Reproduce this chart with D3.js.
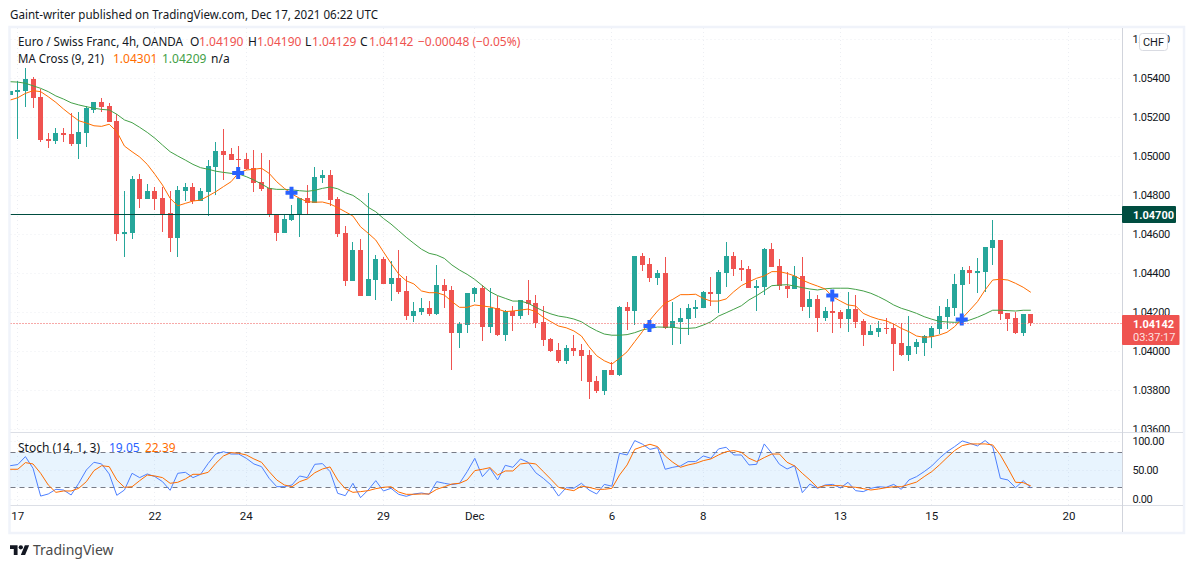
<!DOCTYPE html>
<html lang="en">
<head>
<meta charset="utf-8">
<title>Euro / Swiss Franc, 4h</title>
<script src="https://cdn.jsdelivr.net/npm/d3@7"></script>
<style>
  html, body { margin: 0; padding: 0; background: #fff; }
  svg { display: block; }
  text { font-family: "Noto Sans", Roboto, sans-serif; font-size: 12px; fill: #131722; }
</style>
</head>
<body>
<script>
// candles, first one is cut off by the left edge of the pane
var opens = [1.05313,
  1.05328,1.05333,1.05395,1.05303,1.05087,1.05077,1.05118,1.05113,1.05062,1.05118,
  1.05236,1.05277,1.05256,1.05179,1.04600,1.04605,1.04882,1.04779,1.04820,1.04785,
  1.04708,1.04579,1.04820,1.04841,1.04769,1.04815,1.04944,1.05026,1.05010,1.04985,
  1.04985,1.04938,1.04867,1.04836,1.04703,1.04605,1.04672,1.04697,1.04785,1.04759,
  1.04887,1.04903,1.04779,1.04605,1.04359,1.04518,1.04282,1.04364,1.04472,1.04344,
  1.04374,1.04308,1.04179,1.04200,1.04221,1.04190,1.04338,1.04313,1.04092,1.04133,
  1.04292,1.04323,1.04123,1.04221,1.04082,1.04205,1.04179,1.04262,1.04246,1.04149,
  1.04062,1.04005,1.03949,1.04015,1.04005,1.03979,1.03846,1.03795,1.03903,1.03877,
  1.04226,1.04205,1.04487,1.04446,1.04374,1.04400,1.04118,1.04149,1.04164,1.04215,
  1.04221,1.04303,1.04292,1.04400,1.04487,1.04426,1.04421,1.04323,1.04328,1.04523,
  1.04436,1.04333,1.04318,1.04385,1.04226,1.04267,1.04169,1.04205,1.04200,1.04164,
  1.04215,1.04154,1.04082,1.04097,1.04118,1.04118,1.04041,1.03979,1.04021,1.04041,
  1.04072,1.04113,1.04174,1.04221,1.04338,1.04415,1.04400,1.04405,1.04528,1.04569,
  1.04195,1.04169,1.04092,1.04190];
var highs = [1.05333,
  1.05385,1.05451,1.05405,1.05344,1.05118,1.05144,1.05144,1.05220,1.05226,1.05256,
  1.05277,1.05297,1.05272,1.05215,1.04820,1.04897,1.04908,1.04856,1.04841,1.04841,
  1.04820,1.04846,1.04862,1.04862,1.04836,1.04979,1.05072,1.05138,1.05041,1.05051,
  1.05015,1.05031,1.05015,1.04979,1.04703,1.04703,1.04749,1.04785,1.04851,1.04944,
  1.04928,1.04928,1.04790,1.04641,1.04559,1.04574,1.04810,1.04492,1.04482,1.04462,
  1.04518,1.04385,1.04251,1.04272,1.04256,1.04441,1.04369,1.04333,1.04149,1.04297,
  1.04328,1.04338,1.04323,1.04282,1.04210,1.04231,1.04262,1.04364,1.04287,1.04231,
  1.04067,1.04041,1.04031,1.04082,1.04036,1.04005,1.03872,1.03903,1.03944,1.04231,
  1.04251,1.04487,1.04503,1.04477,1.04415,1.04482,1.04251,1.04221,1.04241,1.04262,
  1.04308,1.04379,1.04415,1.04559,1.04508,1.04467,1.04436,1.04364,1.04528,1.04554,
  1.04472,1.04405,1.04436,1.04482,1.04308,1.04287,1.04226,1.04303,1.04210,1.04303,
  1.04287,1.04164,1.04133,1.04154,1.04169,1.04138,1.04144,1.04179,1.04062,1.04082,
  1.04128,1.04231,1.04267,1.04395,1.04431,1.04436,1.04477,1.04533,1.04672,1.04569,
  1.04195,1.04200,1.04190,1.04190];
var lows = [1.05313,
  1.05087,1.05251,1.05246,1.05072,1.05041,1.05062,1.05072,1.05051,1.04985,1.05046,
  1.05220,1.05226,1.05174,1.04564,1.04482,1.04574,1.04733,1.04779,1.04723,1.04610,
  1.04508,1.04482,1.04769,1.04754,1.04769,1.04692,1.04800,1.04877,1.04979,1.04882,
  1.04928,1.04815,1.04820,1.04687,1.04564,1.04605,1.04667,1.04585,1.04697,1.04759,
  1.04862,1.04744,1.04585,1.04333,1.04359,1.04282,1.04282,1.04262,1.04344,1.04256,
  1.04292,1.04159,1.04149,1.04185,1.04179,1.04185,1.04221,1.03903,1.04015,1.04092,
  1.04251,1.04051,1.04092,1.04077,1.04051,1.04103,1.04164,1.04185,1.04118,1.04026,
  1.03995,1.03938,1.03933,1.03974,1.03846,1.03754,1.03785,1.03774,1.03877,1.03872,
  1.04108,1.04133,1.04410,1.04354,1.04338,1.04113,1.04031,1.04036,1.04082,1.04169,
  1.04221,1.04231,1.04195,1.04328,1.04385,1.04359,1.04323,1.04205,1.04287,1.04431,
  1.04313,1.04272,1.04318,1.04205,1.04169,1.04097,1.04154,1.04092,1.04118,1.04097,
  1.04118,1.04026,1.04082,1.04072,1.04087,1.03897,1.03974,1.03949,1.03985,1.03974,
  1.04015,1.04087,1.04113,1.04179,1.04159,1.04344,1.04297,1.04303,1.04441,1.04159,
  1.04103,1.04087,1.04077,1.04129];
var closes = [1.05333,
  1.05338,1.05395,1.05297,1.05082,1.05077,1.05118,1.05108,1.05062,1.05123,1.05246,
  1.05277,1.05251,1.05174,1.04600,1.04610,1.04882,1.04779,1.04820,1.04779,1.04703,
  1.04579,1.04826,1.04841,1.04769,1.04820,1.04949,1.05026,1.05005,1.04979,1.04979,
  1.04933,1.04862,1.04831,1.04697,1.04605,1.04677,1.04703,1.04785,1.04759,1.04892,
  1.04903,1.04774,1.04600,1.04359,1.04518,1.04282,1.04369,1.04472,1.04344,1.04374,
  1.04303,1.04179,1.04205,1.04221,1.04190,1.04338,1.04308,1.04092,1.04138,1.04297,
  1.04323,1.04123,1.04221,1.04082,1.04205,1.04179,1.04262,1.04241,1.04144,1.04056,
  1.04000,1.03949,1.04015,1.04000,1.03974,1.03841,1.03795,1.03903,1.03877,1.04226,
  1.04205,1.04487,1.04441,1.04374,1.04400,1.04118,1.04154,1.04169,1.04221,1.04226,
  1.04303,1.04292,1.04405,1.04487,1.04421,1.04415,1.04323,1.04333,1.04523,1.04431,
  1.04333,1.04318,1.04385,1.04226,1.04267,1.04169,1.04205,1.04195,1.04164,1.04215,
  1.04149,1.04082,1.04103,1.04118,1.04113,1.04036,1.03979,1.04026,1.04046,1.04077,
  1.04118,1.04179,1.04226,1.04344,1.04415,1.04400,1.04410,1.04533,1.04569,1.04190,
  1.04164,1.04092,1.04190,1.04142];

// MA Cross (9, 21)
var ma9 = [1.05287,
  1.05299,1.05321,1.05335,1.05330,1.05304,1.05275,1.05241,1.05210,1.05181,1.05169,
  1.05155,1.05152,1.05163,1.05125,1.05051,1.05022,1.04995,1.04957,1.04906,1.04851,
  1.04783,1.04745,1.04757,1.04769,1.04774,1.04795,1.04817,1.04843,1.04868,1.04914,
  1.04928,1.04932,1.04937,1.04911,1.04868,1.04834,1.04805,1.04783,1.04766,1.04763,
  1.04764,1.04754,1.04735,1.04714,1.04692,1.04637,1.04604,1.04569,1.04509,1.04450,
  1.04395,1.04360,1.04344,1.04308,1.04299,1.04299,1.04287,1.04253,1.04224,1.04224,
  1.04236,1.04231,1.04226,1.04215,1.04202,1.04205,1.04210,1.04215,1.04202,1.04173,
  1.04150,1.04128,1.04119,1.04103,1.04077,1.04022,1.03976,1.03950,1.03933,1.03963,
  1.03996,1.04048,1.04099,1.04159,1.04205,1.04246,1.04265,1.04289,1.04289,1.04291,
  1.04270,1.04256,1.04256,1.04267,1.04304,1.04335,1.04355,1.04373,1.04385,1.04407,
  1.04407,1.04398,1.04385,1.04364,1.04347,1.04333,1.04318,1.04278,1.04256,1.04236,
  1.04231,1.04193,1.04176,1.04163,1.04155,1.04138,1.04116,1.04099,1.04077,1.04070,
  1.04073,1.04082,1.04096,1.04125,1.04168,1.04210,1.04253,1.04313,1.04364,1.04368,
  1.04364,1.04347,1.04327,1.04301];
var ma21 = [1.05381,
  1.05379,1.05373,1.05360,1.05347,1.05330,1.05308,1.05292,1.05273,1.05262,1.05253,
  1.05245,1.05239,1.05236,1.05214,1.05185,1.05171,1.05147,1.05121,1.05091,1.05056,
  1.05022,1.05000,1.04979,1.04957,1.04940,1.04932,1.04922,1.04916,1.04911,1.04908,
  1.04894,1.04877,1.04856,1.04834,1.04829,1.04829,1.04826,1.04822,1.04819,1.04824,
  1.04834,1.04841,1.04832,1.04812,1.04798,1.04771,1.04737,1.04714,1.04680,1.04651,
  1.04617,1.04583,1.04552,1.04522,1.04501,1.04492,1.04475,1.04441,1.04415,1.04393,
  1.04367,1.04335,1.04304,1.04284,1.04270,1.04256,1.04256,1.04245,1.04224,1.04205,
  1.04190,1.04179,1.04173,1.04164,1.04150,1.04125,1.04104,1.04087,1.04081,1.04081,
  1.04084,1.04094,1.04108,1.04116,1.04123,1.04122,1.04122,1.04116,1.04116,1.04119,
  1.04133,1.04150,1.04179,1.04196,1.04214,1.04232,1.04262,1.04284,1.04309,1.04335,
  1.04338,1.04340,1.04333,1.04325,1.04318,1.04313,1.04319,1.04322,1.04322,1.04322,
  1.04316,1.04308,1.04296,1.04279,1.04259,1.04236,1.04219,1.04207,1.04193,1.04176,
  1.04163,1.04152,1.04149,1.04147,1.04149,1.04159,1.04173,1.04190,1.04209,1.04209,
  1.04207,1.04205,1.04209,1.04209];

// crosses of the two averages
var crossBars = [30, 37, 84, 108, 125];
var crossPrices = [1.04913, 1.04812, 1.04128, 1.04284, 1.04161];

// Stoch (14, 1, 3)
var stochK = [57,
  59,72.6,52.6,5,8.6,16.6,15.4,6.9,26.9,49.7,
  62.9,60,42.9,6.3,15.4,44,36.6,42.9,38.3,29.7,
  14.9,44,45.7,36.6,42.3,61,77,81,77,77,
  69.7,60,55.4,35.4,21.1,21.1,24,39.4,36.6,59.4,
  60.6,46.9,9.7,5.7,26.9,2.3,15.4,31.4,13.7,18.3,
  8,4.6,8.6,10.3,8,29.7,26.9,24.6,26.9,46.9,
  69.7,38.3,52.6,32.6,57.7,54.3,68.6,62.9,45,35.4,
  24,5,19.4,18.3,26.9,15.4,8.6,25,22,78.3,
  75.4,100,94,85,88,50.9,54.3,56.6,64,64,
  73.7,69.7,85.7,88.6,75.4,75.4,58.3,59.4,94.3,78.3,
  59.4,51.4,57,10.9,25.7,18.3,24,25,18.9,28.6,
  14.3,12.6,18.3,21,20,25,16.6,32.6,38.3,46.9,
  56.6,69.7,81,89.7,99.4,95.4,90.9,100,89.7,35.4,
  32.6,19.4,31.4,19.05];
var stochD = [50.9,
  50.9,62.3,60,44,24,11.4,13.7,13.7,18.3,29.7,
  48.6,57,55.4,32.6,20,21,31.4,41,39.4,36.6,
  26.9,28.6,34.3,42.3,42.3,45.7,61,73.7,79.4,78.3,
  75.4,68.6,62.9,46.9,32.6,24,21,29.7,34.3,45,
  51.4,54.9,32.6,17.7,11.4,12.6,14.3,17.7,20,21,
  12,8,8,8.6,8.6,16.6,21,25.7,26.9,32.6,
  48.6,50.9,53.7,41,48,48,60,61.7,60,46.9,
  33.7,20,16.6,14.3,22,20,16.6,16.6,18.3,41,
  58.3,85,89.7,93.7,89.7,73.7,62.9,54.3,58.3,61,
  65.7,68.6,75.4,81,82.9,80,69.7,64,70.9,77,
  77,62.9,56.6,44,32.6,19.4,22.9,22.9,22.9,21,
  20,17.7,15.4,17.1,19.4,21,21,25,29,38.3,
  46.9,58.3,70.9,82.9,91.4,94.3,94.3,94.3,92.6,75.4,
  52.6,28.6,28,22.39];

// axis labels
var dateTicks = [1, 19, 31, 49, 61, 79, 91, 109, 121, 139];
var dateLabels = ["17", "22", "24", "29", "Dec", "6", "8", "13", "15", "20"];
var priceTicks = [1.036, 1.038, 1.04, 1.042, 1.044, 1.046, 1.048, 1.05, 1.052, 1.054, 1.056];
var stochTicks = [0, 50, 100];

var width = 1194, height = 568;
var left = 10.5, axisX = 1122.5, right = 1183;
var up = "#26a69a", down = "#ef5350", orange = "#ff6d00", green = "#43a047", blue = "#2962ff";

var svg = d3.select("body").append("svg")
  .attr("width", width)
  .attr("height", height);

var x = d3.scaleLinear().domain([0, 134]).range([9.68, 1030.3]);
var y = d3.scaleLinear().domain([1.036, 1.056]).range([429, 39]);
var ys = d3.scaleLinear().domain([0, 100]).range([499, 440.6]);

var defs = svg.append("defs");
defs.append("clipPath").attr("id", "plot")
  .append("rect").attr("x", left).attr("y", 28).attr("width", axisX - left).attr("height", 404);
// the axis group is translated, so this one starts at 0
defs.append("clipPath").attr("id", "priceLabels")
  .append("rect").attr("x", 0).attr("y", 28).attr("width", 70).attr("height", 404);

// frame of the chart
svg.append("rect")
  .attr("x", 9.5).attr("y", 27).attr("width", 1174.5).attr("height", 506)
  .attr("fill", "#fff").attr("stroke", "#f0f3fa").attr("stroke-width", 2.5);

// grid
var grid = svg.append("g")
  .attr("stroke", "#eceef3")
  .attr("stroke-dasharray", "1 3");
grid.selectAll(".gx").data(dateTicks).enter().append("line")
  .attr("x1", function(d) { return Math.round(x(d)) + 0.5; })
  .attr("x2", function(d) { return Math.round(x(d)) + 0.5; })
  .attr("y1", 28).attr("y2", 505);
grid.selectAll(".gy").data(priceTicks).enter().append("line")
  .attr("x1", left).attr("x2", axisX)
  .attr("y1", function(d) { return Math.round(y(d)) + 0.5; })
  .attr("y2", function(d) { return Math.round(y(d)) + 0.5; });
grid.selectAll(".gs").data(stochTicks).enter().append("line")
  .attr("x1", left).attr("x2", axisX)
  .attr("y1", function(d) { return Math.round(ys(d)) + 0.5; })
  .attr("y2", function(d) { return Math.round(ys(d)) + 0.5; });

// main pane
var pane = svg.append("g").attr("clip-path", "url(#plot)");
var bars = d3.range(opens.length);

function barColor(i) { return closes[i] < opens[i] ? down : up; }

pane.selectAll(".wick").data(bars).enter().append("rect")
  .attr("x", function(i) { return Math.round(x(i)); })
  .attr("y", function(i) { return y(highs[i]); })
  .attr("width", 1)
  .attr("height", function(i) { return Math.max(1, y(lows[i]) - y(highs[i])); })
  .attr("fill", barColor)
  .attr("shape-rendering", "crispEdges");

pane.selectAll(".body").data(bars).enter().append("rect")
  .attr("x", function(i) { return Math.round(x(i)) - 2; })
  .attr("y", function(i) { return y(Math.max(opens[i], closes[i])); })
  .attr("width", 5)
  .attr("height", function(i) { return Math.max(1, Math.abs(y(opens[i]) - y(closes[i]))); })
  .attr("fill", barColor)
  .attr("shape-rendering", "crispEdges");

function drawLine(target, values, scale, color) {
  var line = d3.line()
    .x(function(d, i) { return x(i) + 0.5; })
    .y(function(d) { return scale(d); });
  target.append("path")
    .attr("d", line(values))
    .attr("fill", "none")
    .attr("stroke", color)
    .attr("stroke-width", 1);
}

drawLine(pane, ma21, y, green);
drawLine(pane, ma9, y, orange);

pane.selectAll(".cross").data(crossBars).enter().append("path")
  .attr("d", d3.symbol(d3.symbolCross, 80))
  .attr("transform", function(d, i) {
    return "translate(" + x(d) + "," + y(crossPrices[i]) + ")";
  })
  .attr("fill", blue);

// horizontal level and last price
var levelPrice = 1.047, lastPrice = 1.04142;
pane.append("line")
  .attr("x1", left).attr("x2", axisX)
  .attr("y1", Math.floor(y(levelPrice)) + 0.5).attr("y2", Math.floor(y(levelPrice)) + 0.5)
  .attr("stroke", "#004d40").attr("stroke-width", 1.2);
pane.append("line")
  .attr("x1", left).attr("x2", axisX)
  .attr("y1", Math.floor(y(lastPrice)) + 0.5).attr("y2", Math.floor(y(lastPrice)) + 0.5)
  .attr("stroke", down).attr("stroke-dasharray", "1 2");

// stochastic pane
svg.append("rect")
  .attr("x", left).attr("width", axisX - left)
  .attr("y", ys(80)).attr("height", ys(20) - ys(80))
  .attr("fill", "#2196f3").attr("fill-opacity", 0.1);
svg.selectAll(".band").data([80, 20]).enter().append("line")
  .attr("x1", left).attr("x2", axisX)
  .attr("y1", function(d) { return Math.round(ys(d)) + 0.5; })
  .attr("y2", function(d) { return Math.round(ys(d)) + 0.5; })
  .attr("stroke", "#787b86").attr("stroke-dasharray", "5 4");

var stochPane = svg.append("g");
drawLine(stochPane, stochK, ys, "#4d80ff");
drawLine(stochPane, stochD, ys, orange);

// separators
svg.append("line").attr("x1", left).attr("x2", right).attr("y1", 432.5).attr("y2", 432.5).attr("stroke", "#dcdfe6");
svg.append("line").attr("x1", left).attr("x2", right).attr("y1", 505.5).attr("y2", 505.5).attr("stroke", "#dcdfe6");
svg.append("line").attr("x1", axisX).attr("x2", axisX).attr("y1", 28).attr("y2", 532).attr("stroke", "#d1d4dc");

// axes
var priceAxis = d3.axisRight(y).tickValues(priceTicks).tickFormat(d3.format(".5f")).tickSize(0).tickPadding(10);
svg.append("g").attr("class", "valueAxis").attr("clip-path", "url(#priceLabels)")
  .attr("transform", "translate(" + axisX + ",0)").call(priceAxis)
  .call(function(g) { g.select(".domain").remove(); });

var stochAxis = d3.axisRight(ys).tickValues(stochTicks).tickFormat(d3.format(".2f")).tickSize(0).tickPadding(10);
svg.append("g").attr("class", "valueAxis")
  .attr("transform", "translate(" + axisX + ",0)").call(stochAxis)
  .call(function(g) { g.select(".domain").remove(); });

var dateAxis = d3.axisBottom(x).tickValues(dateTicks)
  .tickFormat(function(d, i) { return dateLabels[i]; }).tickSize(0).tickPadding(7);
svg.append("g").attr("class", "dateAxis").attr("transform", "translate(0,505)").call(dateAxis)
  .call(function(g) { g.select(".domain").remove(); });

svg.selectAll(".valueAxis .tick text")
  .style("font-family", "Roboto, sans-serif").style("font-size", "11px").style("letter-spacing", "-0.4px")
  .attr("fill", "#131722");
svg.selectAll(".dateAxis .tick text")
  .style("font-family", "Roboto, sans-serif").style("font-size", "11.5px")
  .attr("fill", "#131722");

// price tags
function tagText(py, label, opacity, weight) {
  svg.append("text").attr("x", 1133).attr("y", py)
    .style("font-family", "Roboto, sans-serif").style("font-size", "11px")
    .style("fill", "#fff").style("fill-opacity", opacity).style("font-weight", weight)
    .text(label);
}
svg.append("rect").attr("x", 1122).attr("y", 206).attr("width", 54).attr("height", 17).attr("rx", 1).attr("fill", "#004d40");
tagText(218.5, "1.04700", 1, 700);
svg.append("rect").attr("x", 1122).attr("y", 315).attr("width", 57.5).attr("height", 30).attr("rx", 1).attr("fill", down);
tagText(327.5, "1.04142", 1, 700);
tagText(341, "03:37:17", 0.85, 400);

// currency badge
svg.append("rect").attr("x", 1139.5).attr("y", 33.5).attr("width", 28).attr("height", 17).attr("rx", 3)
  .attr("fill", "#fff").attr("stroke", "#d9dbe2");
svg.append("text").attr("x", 1153.5).attr("y", 46).attr("text-anchor", "middle")
  .style("font-family", "Roboto, sans-serif").style("font-size", "11px").text("CHF");

// legends
svg.append("text").attr("x", 10).attr("y", 19).attr("textLength", 368).attr("lengthAdjust", "spacingAndGlyphs")
  .text("Gaint-writer published on TradingView.com, Dec 17, 2021 06:22 UTC");

function legend(py, items) {
  items.forEach(function(it) {
    var t = svg.append("text").attr("x", it[0]).attr("y", py).style("fill", it[2] || "#131722").text(it[1]);
    if (it[3]) t.attr("textLength", it[3]).attr("lengthAdjust", "spacingAndGlyphs");
  });
}
legend(46, [
  [18, "Euro / Swiss Franc, 4h, OANDA", null, 165],
  [190, "O"], [199, "1.04190", down],
  [248, "H"], [257, "1.04190", down],
  [305, "L"], [312, "1.04129", down],
  [360, "C"], [369, "1.04142", down],
  [418, "\u22120.00048 (\u22120.05%)", down]
]);
legend(63, [
  [18, "MA Cross (9, 21)", null, 86],
  [113, "1.04301", orange],
  [162, "1.04209", green],
  [211, "n/a"]
]);
legend(452, [
  [18, "Stoch (14, 1, 3)", null, 82],
  [109, "19.05", blue],
  [145, "22.39", orange]
]);

// logo
var logo = svg.append("g").attr("transform", "translate(10,543) scale(0.54)").attr("fill", "#131722");
logo.append("path").attr("d", "M14 22H7V11H0V4h14v18zM28 22h-8l7.5-18h8L28 22z");
logo.append("circle").attr("cx", 20).attr("cy", 8).attr("r", 4);
svg.append("text").attr("x", 33).attr("y", 555).style("font-size", "14px").style("fill", "#4a4a4a").text("TradingView");
</script>
</body>
</html>
